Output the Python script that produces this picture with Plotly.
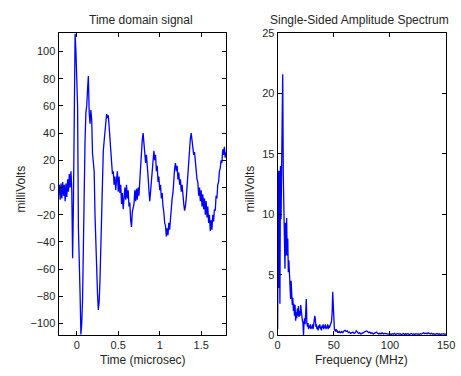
import numpy as np
import plotly.graph_objects as go

# ---- Time-domain signal (sampled every 0.01 microsec from -0.22 to 1.80) ----
t_start = -0.22
t_step = 0.01
signal_mv = [
    -5, 2, -9, 3, -8, 4, -6, 2, -10, 3,
    -7, 6, -3, 10, 0, 12, -2, -52, -10, 60,
    113, 100, 85, 60, -30, -72, -78, -108, -100, -82,
    -30, 12, 35, 55, 60, 72, 82, 55, 47, 57,
    50, 25, 17, 12, -20, -40, -70, -78, -90, -84,
    -68, -38, -15, 8, 27, 34, 42, 50, 54, 51,
    53, 45, 35, 24, 20, 10, 12, 2, 8, -2,
    6, 12, -3, 8, -4, 2, -12, -4, -16, -6,
    0, -9, 2, -8, -2, -14, -11, -24, -29, -18,
    -14, -12, -2, -10, -1, -9, 0, -6, 5, 18,
    30, 35, 40, 32, 30, 18, 24, 10, 8, -2,
    -10, -3, 6, 14, 22, 27, 20, 24, 12, 16,
    4, 8, -2, 2, -8, -4, -14, -18, -26, -28,
    -36, -30, -35, -26, -31, -22, -15, -8, -4, 8,
    14, 18, 12, 16, 6, 11, 2, 6, -3, 2,
    -8, -12, -17, -14, -8, 2, 10, 20, 28, 36,
    40, 33, 32, 24, 26, 17, 14, 6, 4, -6,
    0, -10, -2, -14, -5, -16, -8, -20, -10, -22,
    -14, -26, -20, -32, -24, -31, -20, -25, -16, -17,
    -6, -8, 2, 4, 12, 14, 20, 18, 28, 24,
    30, 22, 26,
]
time_us = np.round(t_start + t_step * np.arange(len(signal_mv)), 4)

# ---- Single-sided amplitude spectrum ----
freq_lo_step = 0.5   # MHz, 0..55
spec_lo = [
    0.5, 13.6, 3.9, 13.6, 2.6, 14.0, 9.6, 14.0, 19.5, 21.6,
    13.3, 8.8, 10.0, 5.5, 9.3, 6.6, 9.7, 6.6, 8.0, 5.2,
    6.2, 5.0, 4.2, 3.0, 4.5, 3.8, 2.5, 3.1, 2.0, 2.6,
    1.6, 2.5, 1.2, 1.9, 1.4, 2.2, 1.6, 2.4, 1.5, 2.0,
    1.6, 2.5, 1.8, 2.0, 1.2, 1.0, 0.0, 1.1, 1.4, 0.9,
    2.4, 3.0, 1.0, 0.7, 1.0, 0.5, 0.8, 0.6, 0.9, 0.5,
    0.7, 0.6, 0.9, 0.5, 0.8, 1.1, 1.6, 1.4, 0.7, 0.9,
    0.5, 0.7, 0.4, 0.8, 0.6, 0.9, 0.5, 0.7, 0.4, 0.8,
    0.6, 0.9, 0.5, 0.8, 0.6, 0.9, 0.5, 0.7, 0.6, 0.9,
    0.5, 0.8, 0.6, 0.7, 0.9, 1.0, 1.2, 1.8, 3.6, 2.0,
    1.2, 0.5, 0.4, 0.3, 0.5, 0.3, 0.4, 0.2, 0.3, 0.2,
    0.3,
]
freq_hi_start = 56.0  # MHz, 56..150 in 1 MHz steps
spec_hi = [
    0.2, 0.3, 0.2, 0.35, 0.4, 0.3, 0.35, 0.2, 0.25, 0.15,
    0.2, 0.25, 0.15, 0.2, 0.35, 0.2, 0.15, 0.2, 0.1, 0.15,
    0.2, 0.25, 0.3, 0.35, 0.3, 0.2, 0.25, 0.15, 0.2, 0.1,
    0.15, 0.2, 0.25, 0.15, 0.1, 0.15, 0.1, 0.2, 0.1, 0.15,
    0.1, 0.12, 0.08, 0.12, 0.1, 0.05, 0.12, 0.08, 0.15, 0.06,
    0.1, 0.14, 0.07, 0.12, 0.05, 0.1, 0.13, 0.06, 0.11, 0.08,
    0.12, 0.05, 0.1, 0.14, 0.07, 0.1, 0.06, 0.12, 0.08, 0.1,
    0.05, 0.12, 0.09, 0.15, 0.2, 0.12, 0.18, 0.1, 0.2, 0.14,
    0.1, 0.16, 0.08, 0.12, 0.06, 0.1, 0.13, 0.07, 0.11, 0.05,
    0.1, 0.08, 0.12, 0.06, 0.1,
]
freq_mhz = np.concatenate([
    np.round(freq_lo_step * np.arange(len(spec_lo)), 3),
    freq_hi_start + np.arange(len(spec_hi)),
])
spectrum_mv = spec_lo + spec_hi

W, H = 461, 376
FONT = "Liberation Sans, Arial, sans-serif"
TXT = "#262626"

fig = go.Figure()
fig.add_trace(go.Scatter(x=time_us, y=signal_mv, mode="lines",
                         line=dict(color="#0000FF", width=1.3),
                         xaxis="x", yaxis="y", showlegend=False, hoverinfo="skip"))
fig.add_trace(go.Scatter(x=freq_mhz, y=spectrum_mv, mode="lines",
                         line=dict(color="#0000FF", width=1.3),
                         xaxis="x2", yaxis="y2", showlegend=False, hoverinfo="skip"))

ax_common = dict(showline=True, linecolor="black", linewidth=1, mirror="ticks",
                 ticks="inside", ticklen=4, tickcolor="black", showgrid=False,
                 zeroline=False, ticklabeloverflow="allow",
                 tickfont=dict(family=FONT, size=11, color=TXT))

ydom = [1 - 340 / H, 1 - 28 / H]
fig.update_layout(
    width=W, height=H, margin=dict(l=0, r=0, t=0, b=0),
    paper_bgcolor="white", plot_bgcolor="white",
    xaxis=dict(domain=[57 / W, 229 / W], range=[-0.22, 1.8],
               tickvals=[0, 0.5, 1, 1.5], ticktext=["0", "0.5", "1", "1.5"],
               anchor="y", **ax_common),
    yaxis=dict(domain=ydom, range=[-108.5, 113.5], tickvals=list(range(-100, 101, 20)),
               anchor="x", **ax_common),
    xaxis2=dict(domain=[282 / W, 455 / W], range=[0, 150], tickvals=[0, 50, 100, 150],
                anchor="y2", **ax_common),
    yaxis2=dict(domain=ydom, range=[0, 25], tickvals=[0, 5, 10, 15, 20, 25],
                anchor="x2", **ax_common),
)

def ann(text, x, y, angle=0, size=11):
    fig.add_annotation(text=text, x=x / W, y=1 - y / H, xref="paper", yref="paper",
                       showarrow=False, textangle=angle, xanchor="center", yanchor="middle",
                       font=dict(family=FONT, size=size, color=TXT))

ann("Time domain signal", 142, 14, size=12)
ann("Single-Sided Amplitude Spectrum", 366, 14, size=12)
ann("Time (microsec)", 144, 366, size=12)
ann("Frequency (MHz)", 368, 366, size=12)
ann("milliVolts", 18, 189, -90, size=12)
ann("milliVolts", 254, 189, -90, size=12)

fig.write_html(
    "out.html",
    config={"displayModeBar": False},
    post_script="document.documentElement.style.overflow='hidden';document.body.style.margin='0';document.body.style.overflow='hidden';",
)
